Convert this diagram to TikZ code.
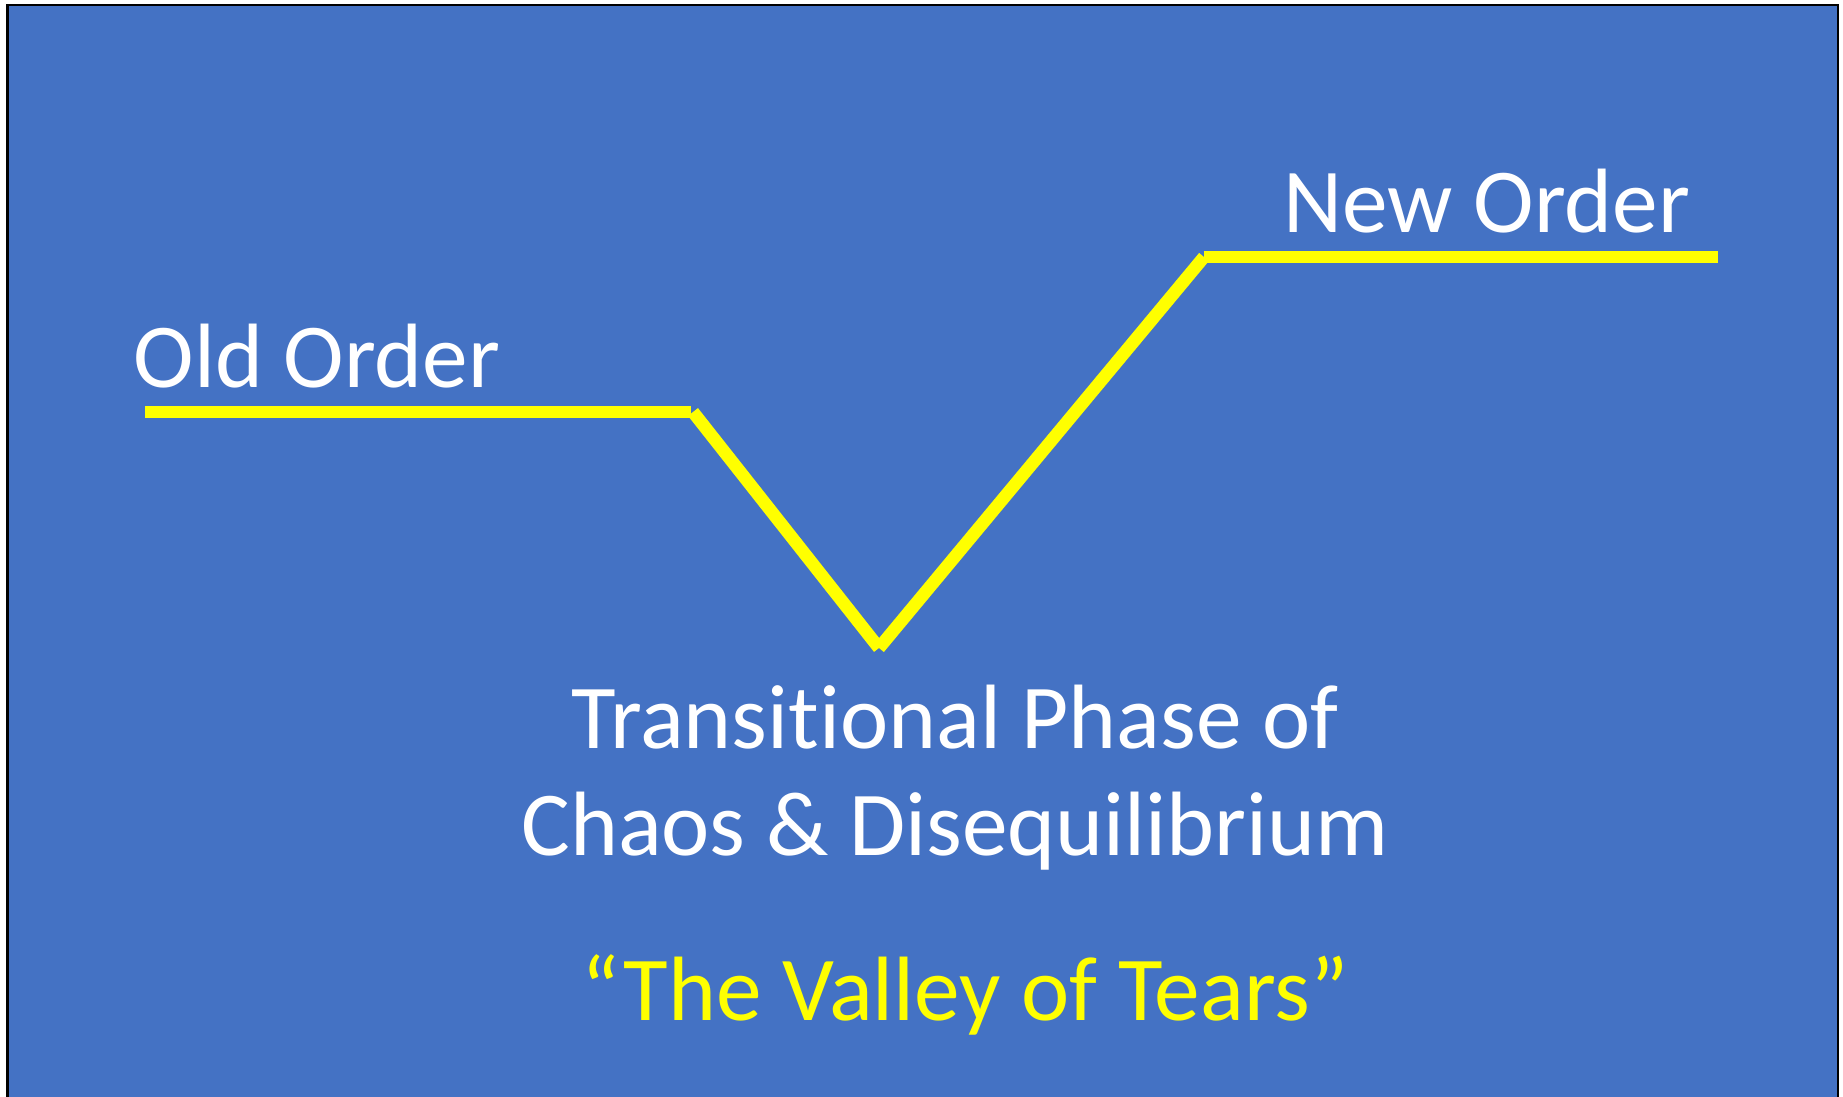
\documentclass[tikz,border=0pt]{standalone}
\usepackage{fontspec}
\setmainfont{Carlito}[Ligatures={NoCommon}]
\definecolor{slideblue}{HTML}{4472C4}
\definecolor{tearyellow}{HTML}{FFFF00}
\tikzset{
  path/.style={draw=tearyellow, line width=3.6pt, line cap=butt},
  label/.style={text=white, inner sep=0pt, font=\fontsize{26pt}{30.7pt}\selectfont}
}
\begin{document}
\begin{tikzpicture}[x=0.1mm, y=-0.1mm]
  \useasboundingbox (0,0) rectangle (1843,1097);
  \clip (0,0) rectangle (1843,1097);
  \draw[fill=slideblue, line width=0.6pt] (7.5,5) rectangle (1838,1110);

  \coordinate (A) at (145,412);
  \coordinate (B) at (691,412);
  \coordinate (C) at (693,412);
  \coordinate (D) at (879,648);
  \coordinate (E) at (1204,257);
  \coordinate (F) at (1718,257);

  \draw[path] (A) -- (B);
  \draw[path] (C) -- (D);
  \draw[path] (D) -- (E);
  \draw[path] (E) -- (F);

  \node (old) [label, anchor=base west] at (133,388) {Old Order};
  \node (new) [label, anchor=base west] at (1283,233) {New Order};
  \node (trans) [label, align=center, anchor=base] at (955,856)
    {Transitional Phase of\\Chaos \& Disequilibrium};
  \node (valley) [label, text=tearyellow, anchor=base] at (965,1020)
    {“The Valley of Tears”};
\end{tikzpicture}
\end{document}
